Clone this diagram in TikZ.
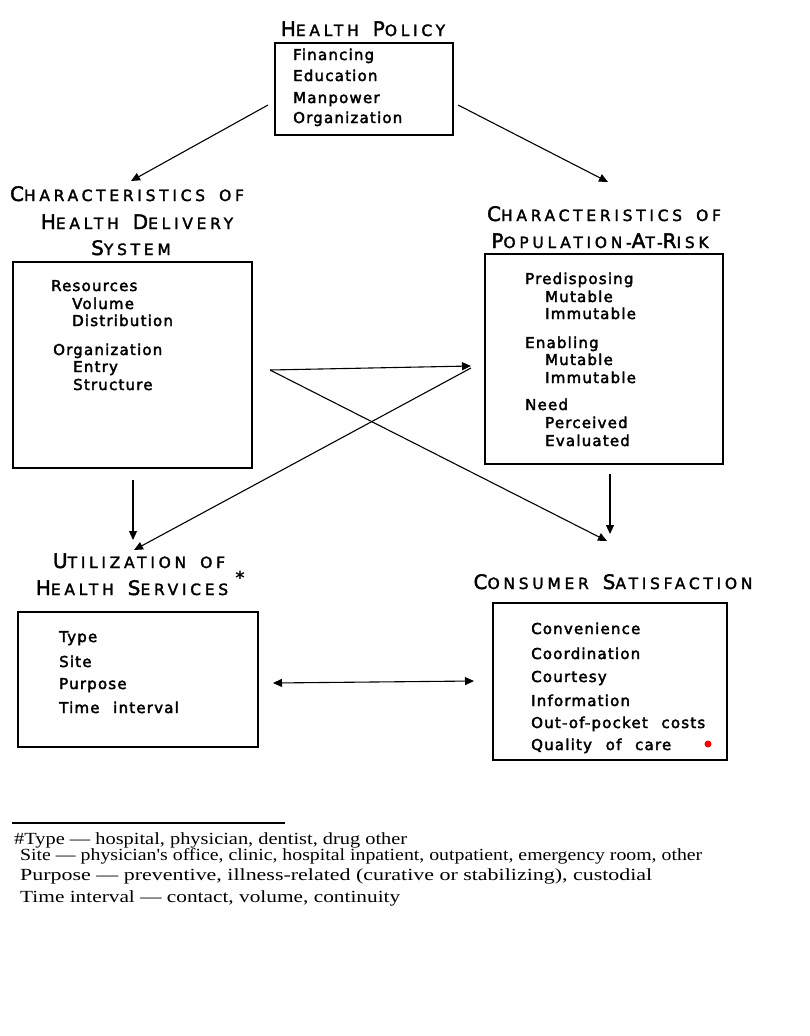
\documentclass[tikz,border=0pt]{standalone}
\usepackage{fontspec}
\usetikzlibrary{arrows.meta}
\newfontfamily\ttlfont{DejaVu Sans}[LetterSpace=24, FakeBold=2]
\newfontfamily\bdyfont{DejaVu Sans}[LetterSpace=8, WordSpace=2.3, FakeBold=2.5]
\newfontfamily\fnfont{Liberation Serif}
\newcommand\scw[2]{{\fontsize{20}{22}\selectfont #1}{\fontsize{15.5}{17}\selectfont #2}}
\newcommand\scs[1]{{\fontsize{15.5}{17}\selectfont #1}}
\newcommand\wgap{\hspace{14pt}}
\newcommand\fnline[2]{\resizebox{#1}{\height}{#2}}
\tikzset{
  box/.style={draw, line width=1.4pt, inner sep=0pt},
  ttl/.style={anchor=base, inner sep=0pt, font=\ttlfont},
  itm/.style={anchor=base west, inner sep=0pt, font=\bdyfont\fontsize{15}{17}\selectfont},
  fn/.style={anchor=base west, inner sep=0pt, font=\fnfont\fontsize{17}{19}\selectfont},
  arr/.style={line width=1.1pt, -{Triangle[length=9pt,width=8pt]}},
  darr/.style={line width=1.1pt, {Triangle[length=9pt,width=8pt]}-{Triangle[length=9pt,width=8pt]}},
}
\begin{document}
\begin{tikzpicture}[x=1pt,y=-1pt]
\path[use as bounding box, fill=white] (0,0) rectangle (809,1036);

% Health policy
\node[ttl] (hpt) at (363,36) {\scw{H}{EALTH}\wgap\scw{P}{OLICY}};
\node[box, minimum width=178pt, minimum height=92pt] (hp) at (364,89) {};
\node[itm] (hp1) at (293,60) {Financing};
\node[itm] (hp2) at (293,81) {Education};
\node[itm] (hp3) at (293,103) {Manpower};
\node[itm] (hp4) at (293,123) {Organization};

% Characteristics of health delivery system
\node[ttl] (cdt1) at (127,201) {\scw{C}{HARACTERISTICS}\wgap\scs{OF}};
\node[ttl] (cdt2) at (137,229) {\scw{H}{EALTH}\wgap\scw{D}{ELIVERY}};
\node[ttl] (cdt3) at (131,255) {\scw{S}{YSTEM}};
\node[box, minimum width=239pt, minimum height=206pt] (cd) at (132.5,365) {};
\node[itm] (cd1) at (51,291) {Resources};
\node[itm] (cd2) at (72,309) {Volume};
\node[itm] (cd3) at (72,326) {Distribution};
\node[itm] (cd4) at (53,355) {Organization};
\node[itm] (cd5) at (73,372) {Entry};
\node[itm] (cd6) at (73,390) {Structure};

% Characteristics of population-at-risk
\node[ttl] (prt1) at (604,221) {\scw{C}{HARACTERISTICS}\wgap\scs{OF}};
\node[ttl] (prt2) at (600,248) {\scw{P}{OPULATION}\scs{-}\scw{A}{T}\scs{-}\scw{R}{ISK}};
\node[box, minimum width=238pt, minimum height=210pt] (pr) at (604,359) {};
\node[itm] (pr1) at (525,284) {Predisposing};
\node[itm] (pr2) at (545,302) {Mutable};
\node[itm] (pr3) at (545,319) {Immutable};
\node[itm] (pr4) at (525,348) {Enabling};
\node[itm] (pr5) at (545,365) {Mutable};
\node[itm] (pr6) at (545,383) {Immutable};
\node[itm] (pr7) at (525,410) {Need};
\node[itm] (pr8) at (545,428) {Perceived};
\node[itm] (pr9) at (545,446) {Evaluated};

% Utilization of health services
\node[ttl] (ut1) at (139,568) {\scw{U}{TILIZATION}\wgap\scs{OF}};
\node[ttl] (ut2) at (132,595) {\scw{H}{EALTH}\wgap\scw{S}{ERVICES}};
\node[anchor=center, inner sep=0pt, font=\fontspec{DejaVu Sans Bold}\fontsize{18}{18}\selectfont] (ast) at (240,578) {*};
\node[box, minimum width=240pt, minimum height=135pt] (ut) at (138,679.5) {};
\node[itm] (ut1i) at (59,642) {Type};
\node[itm] (ut2i) at (59,667) {Site};
\node[itm] (ut3i) at (59,689) {Purpose};
\node[itm] (ut4i) at (59,713) {Time interval};

% Consumer satisfaction
\node[ttl] (cst) at (613,589) {\scw{C}{ONSUMER}\wgap\scw{S}{ATISFACTION}};
\node[box, minimum width=234pt, minimum height=157pt] (cs) at (610,681.5) {};
\node[itm] (cs1) at (531,634) {Convenience};
\node[itm] (cs2) at (531,659) {Coordination};
\node[itm] (cs3) at (531,682) {Courtesy};
\node[itm] (cs4) at (531,706) {Information};
\node[itm] (cs5) at (531,728) {Out-of-pocket costs};
\node[itm] (cs6) at (531,750) {Quality of care};
\node[circle, fill=red, inner sep=0pt, minimum size=7pt] (dot) at (708,744) {};

% connector end points
\coordinate (hpL) at (268,105);
\coordinate (hpR) at (458,105);
\coordinate (cdTop) at (131,181);
\coordinate (prTop) at (608,182);
\coordinate (cdOut) at (270,370);
\coordinate (prIn) at (471,366);
\coordinate (prOut) at (471,368);
\coordinate (utIn) at (134,550);
\coordinate (csIn) at (607,541);
\coordinate (cdBot) at (133,480);
\coordinate (utTop) at (133,540);
\coordinate (prBot) at (610,474);
\coordinate (csTop) at (610,534);
\coordinate (utR) at (273,683);
\coordinate (csL) at (474,681);

\draw[arr] (hpL) -- (cdTop);
\draw[arr] (hpR) -- (prTop);
\draw[arr] (cdOut) -- (prIn);
\draw[arr] (cdOut) -- (csIn);
\draw[arr] (prOut) -- (utIn);
\draw[arr] (cdBot) -- (utTop);
\draw[arr] (prBot) -- (csTop);
\draw[darr] (utR) -- (csL);

% footnote
\draw[line width=1.3pt] (12,823) -- (285,823);
\node[fn] (fn1) at (14,844) {\fnline{393pt}{\#Type — hospital, physician, dentist, drug other}};
\node[fn] (fn2) at (20,860) {\fnline{682pt}{Site — physician's office, clinic, hospital inpatient, outpatient, emergency room, other}};
\node[fn] (fn3) at (20,880) {\fnline{632pt}{Purpose — preventive, illness-related (curative or stabilizing), custodial}};
\node[fn] (fn4) at (20,902) {\fnline{380pt}{Time interval — contact, volume, continuity}};
\end{tikzpicture}
\end{document}
